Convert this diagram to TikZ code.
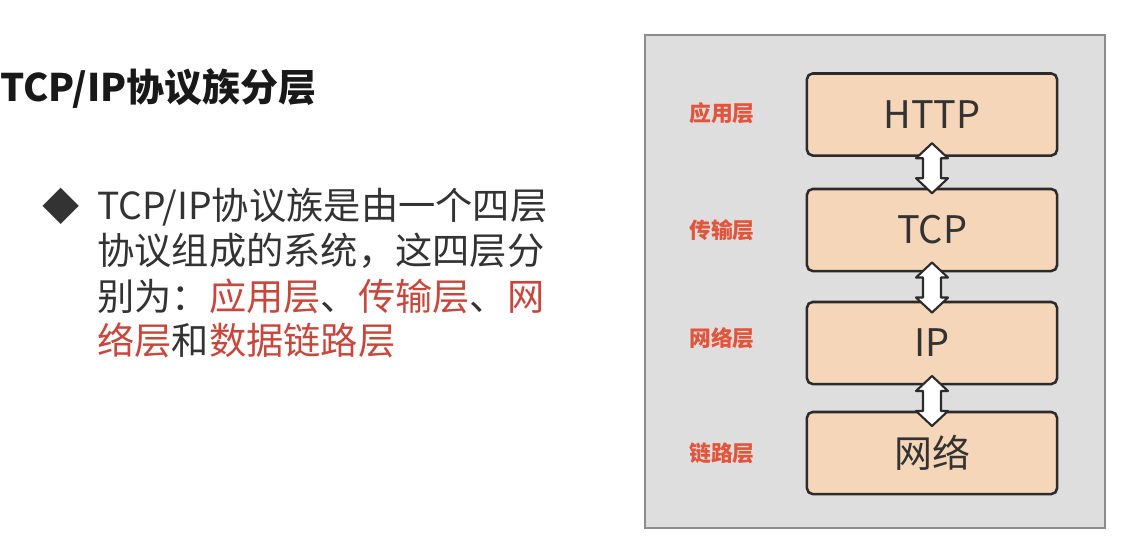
\documentclass[tikz,border=0pt]{standalone}
\usepackage{fontspec}
\newfontfamily\cjk{Noto Sans CJK SC}
\usetikzlibrary{calc, positioning}
\definecolor{panel}{HTML}{DEDEDE}
\definecolor{panelline}{HTML}{8C8C8C}
\definecolor{peach}{HTML}{F6D6B8}
\definecolor{boxline}{HTML}{2B2B2B}
\definecolor{lblred}{HTML}{E2553C}
\definecolor{bodyred}{HTML}{C8473D}
\definecolor{textdark}{HTML}{333333}

\begin{document}
\begin{tikzpicture}[x=0.025cm, y=-0.025cm,
    layer/.style={rectangle, draw=boxline, line width=1.8pt, rounded corners=4pt, fill=peach, minimum width=6.25cm, minimum height=2.05cm, font=\cjk\fontsize{27}{32}\selectfont, text=textdark},
    lbl/.style={font=\cjk\bfseries\fontsize{15.5}{18}\selectfont, text=lblred},
    body/.style={anchor=west, inner sep=0, font=\cjk\fontsize{26.5}{31}\selectfont, text=textdark},
    link/.style={draw=boxline, fill=white, line width=1.5pt, line join=round}]

    \useasboundingbox (0,0) rectangle (1135,555);

    % Title and bullet text on the left
    \node[anchor=west, inner sep=0, font=\cjk\bfseries\fontsize{27}{32}\selectfont, text=black!90] (title) at (0,89) {TCP/IP协议族分层};

    \node[body, anchor=center] (bullet) at (61,206) {◆};
    \node[body] (line1) at (97,207) {TCP/IP协议族是由一个四层};
    \node[body] (line2) at (97,251) {协议组成的系统，这四层分};
    \node[body] (line3) at (97,296) {别为：\textcolor{bodyred}{应用层}、\textcolor{bodyred}{传输层}、\textcolor{bodyred}{网}};
    \node[body] (line4) at (97,340) {\textcolor{bodyred}{络层}和\textcolor{bodyred}{数据链路层}};

    % Gray panel
    \node[rectangle, draw=panelline, fill=panel, line width=1.5pt, minimum width=11.5cm, minimum height=12.325cm] (panel) at (875,281.5) {};

    % Layer boxes
    \node[layer] (http) at (932,114.5) {HTTP};
    \node[layer] (tcp) at (932,230) {TCP};
    \node[layer] (ip) at (932,343) {IP};
    \node[layer] (net) at (932,453) {网络};

    % Layer names
    \node[lbl] (applbl) at (722,113) {应用层};
    \node[lbl] (tranlbl) at (722,230) {传输层};
    \node[lbl] (netlbl) at (722,338) {网络层};
    \node[lbl] (linklbl) at (722,453) {链路层};

    % Double arrows between layers
    \draw[link, shift={($(http.south)!0.5!(tcp.north)+(0,-4)$)}]
        (0,-25) -- (16,-10) -- (9,-10) -- (9,10) -- (16,10) -- (0,25) -- (-16,10) -- (-9,10) -- (-9,-10) -- (-16,-10) -- cycle;
    \draw[link, shift={($(tcp.south)!0.5!(ip.north)+(0,1)$)}]
        (0,-25) -- (16,-10) -- (9,-10) -- (9,10) -- (16,10) -- (0,25) -- (-16,10) -- (-9,10) -- (-9,-10) -- (-16,-10) -- cycle;
    \draw[link, shift={($(ip.south)!0.5!(net.north)+(0,3)$)}]
        (0,-25) -- (16,-10) -- (9,-10) -- (9,10) -- (16,10) -- (0,25) -- (-16,10) -- (-9,10) -- (-9,-10) -- (-16,-10) -- cycle;

\end{tikzpicture}
\end{document}
